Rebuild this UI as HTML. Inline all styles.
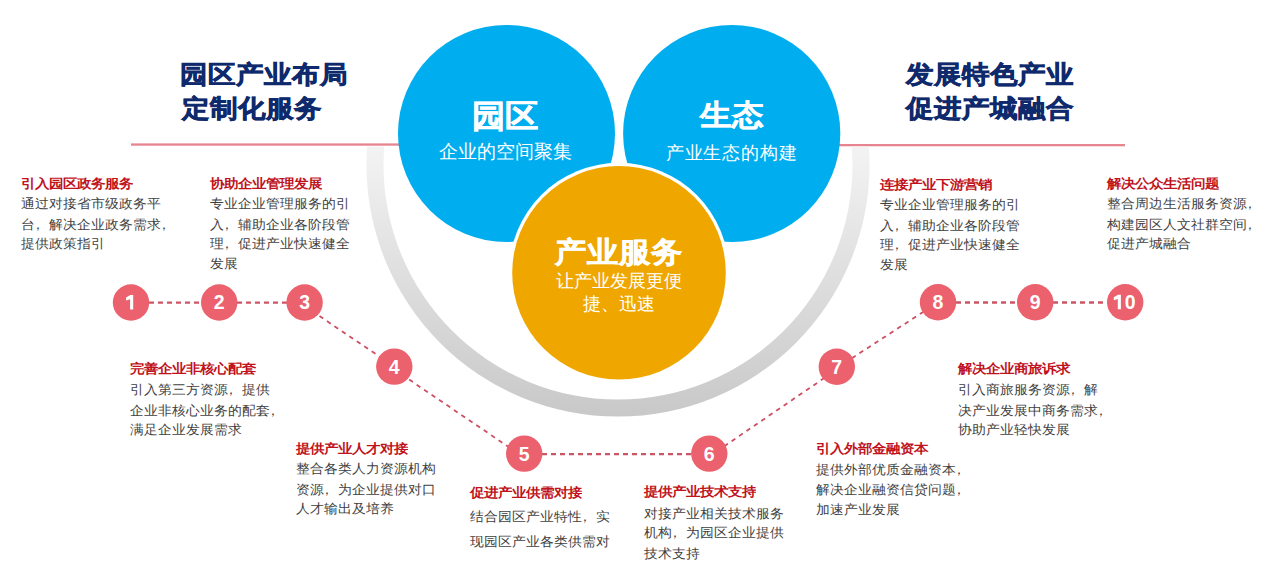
<!DOCTYPE html>
<html>
<head>
<meta charset="utf-8">
<style>
html,body{margin:0;padding:0;}
body{width:1273px;height:576px;overflow:hidden;background:#fff;position:relative;font-family:"Liberation Sans",sans-serif;}
svg{position:absolute;left:0;top:0;}
.t{position:absolute;white-space:nowrap;}
.h{color:#0f2a6c;font-weight:bold;-webkit-text-stroke:0.7px #0f2a6c;font-size:28px;line-height:28px;transform:scaleY(0.91);transform-origin:0 0;}
.ct{color:#fff;font-weight:bold;-webkit-text-stroke:0.5px #fff;}
.cs{color:#fff;}
.blk{position:absolute;white-space:nowrap;font-size:14px;line-height:21.28px;color:#3f3f3f;transform:scaleY(0.94);transform-origin:0 0;}
.blk i{font-style:normal;position:relative;left:-4px;}
.blk b{display:block;color:#c0121c;font-weight:bold;transform:scaleY(0.95);transform-origin:0 50%;}
.n{position:absolute;width:36px;height:36px;border-radius:50%;background:#e95a67;color:#fff;font-weight:bold;font-size:20px;line-height:36px;text-align:center;}
</style>
</head>
<body>
<svg width="1273" height="576" viewBox="0 0 1273 576">
  <defs>
    <linearGradient id="rg" x1="0" y1="147" x2="0" y2="418" gradientUnits="userSpaceOnUse">
      <stop offset="0" stop-color="#f3f3f3"/>
      <stop offset="1" stop-color="#c8c8c8"/>
    </linearGradient>
    <clipPath id="below"><rect x="0" y="146.5" width="1273" height="430"/></clipPath>
  </defs>
  <!-- red lines -->
  <rect x="131" y="143.4" width="270" height="2.3" fill="#e6858f"/>
  <rect x="836" y="144" width="289" height="2.3" fill="#e6858f"/>
  <!-- ring -->
  <path clip-path="url(#below)" fill="url(#rg)" fill-rule="evenodd"
    d="M366.5,165 a251.5,251.5 0 1,0 503,0 a251.5,251.5 0 1,0 -503,0 Z M383.5,165 a234.5,234.5 0 1,0 469,0 a234.5,234.5 0 1,0 -469,0 Z"/>
  <!-- blue circles -->
  <circle cx="506.5" cy="133.5" r="108.5" fill="#00aeef"/>
  <circle cx="731.7" cy="133.5" r="108.6" fill="#00aeef"/>
  <!-- orange -->
  <circle cx="619" cy="272.8" r="110" fill="#fff"/>
  <circle cx="619" cy="272.8" r="106.8" fill="#efa700"/>
  <!-- dashed connectors -->
  <g stroke="#cc5565" stroke-width="2.3" stroke-dasharray="5 4" fill="none">
    <line x1="149" y1="302.7" x2="201" y2="302.7"/>
    <line x1="237" y1="302.7" x2="287" y2="302.7"/>
    <line x1="542" y1="454.1" x2="691" y2="454.1"/>
    <line x1="956" y1="302.5" x2="1017" y2="302.5"/>
    <line x1="1053" y1="302.5" x2="1107" y2="302.5"/>
  </g>
  <g stroke="#cc4f62" stroke-width="1.8" stroke-dasharray="4.5 4.5" fill="none">
    <line x1="304.6" y1="306" x2="394.3" y2="366.6"/>
    <line x1="394.3" y1="369.5" x2="524.2" y2="457.5"/>
    <line x1="709.3" y1="456.4" x2="836.8" y2="369.5"/>
    <line x1="836.8" y1="368" x2="938" y2="302.3"/>
  </g>
  <!-- number circles -->
  <g fill="#eb616d">
    <circle cx="131" cy="302.5" r="18.2"/>
    <circle cx="219.2" cy="302.5" r="18.2"/>
    <circle cx="304.6" cy="302.5" r="18.2"/>
    <circle cx="394.3" cy="366.6" r="18.2"/>
    <circle cx="524.2" cy="453.6" r="18.2"/>
    <circle cx="709.3" cy="453.6" r="18.2"/>
    <circle cx="836.8" cy="366.7" r="18.2"/>
    <circle cx="938" cy="302.3" r="18.2"/>
    <circle cx="1035.2" cy="302.3" r="18.2"/>
    <circle cx="1125.2" cy="302.3" r="18.2"/>
  </g>
  <g fill="#fff" font-family="Liberation Sans" font-weight="bold" font-size="19.5" text-anchor="middle">
    <path transform="translate(131,302.5)" d="M-0.7,-7.6 L2.2,-7.6 L2.2,7 L-0.9,7 L-0.9,-3.2 L-4.9,-2.1 L-4.9,-5 Z"/>
    <text x="219.2" y="309.4">2</text>
    <text x="304.6" y="309.4">3</text>
    <text x="394.3" y="373.5">4</text>
    <text x="524.2" y="460.5">5</text>
    <text x="709.3" y="460.5">6</text>
    <text x="836.8" y="373.59999999999997">7</text>
    <text x="938" y="309.2">8</text>
    <text x="1035.2" y="309.2">9</text>
    <path transform="translate(1118.7,302.3)" d="M-0.7,-7.6 L2.2,-7.6 L2.2,7 L-0.9,7 L-0.9,-3.2 L-4.9,-2.1 L-4.9,-5 Z"/>
    <text x="1130.2" y="309.2">0</text>
  </g>
</svg>

<!-- headings -->
<div class="t h" style="left:180px;top:62.4px">园区产业布局</div>
<div class="t h" style="left:182px;top:96px">定制化服务</div>
<div class="t h" style="left:906px;top:62.4px">发展特色产业</div>
<div class="t h" style="left:906px;top:96px">促进产城融合</div>

<!-- circle texts -->
<div class="t ct" style="left:405.2px;top:99.8px;width:200px;text-align:center;font-size:33px;line-height:33px;transform:scaleY(0.96);transform-origin:0 0">园区</div>
<div class="t cs" style="left:405.7px;top:142.8px;width:200px;text-align:center;font-size:18.7px;line-height:18.7px">企业的空间聚集</div>
<div class="t ct" style="left:631.7px;top:101px;width:200px;text-align:center;font-size:31.5px;line-height:31.5px;transform:scaleY(0.92);transform-origin:0 0">生态</div>
<div class="t cs" style="left:631.4px;top:143.6px;width:200px;text-align:center;font-size:18.4px;line-height:18.4px;letter-spacing:0.9px;text-indent:0.9px">产业生态的构建</div>
<div class="t ct" style="left:519px;top:238.2px;width:200px;text-align:center;font-size:31.5px;line-height:31.5px;transform:scaleY(0.93);transform-origin:0 0">产业服务</div>
<div class="t cs" style="left:518.5px;top:272.2px;width:200px;text-align:center;font-size:18px;line-height:18px">让产业发展更便</div>
<div class="t cs" style="left:518.8px;top:294.5px;width:200px;text-align:center;font-size:18px;line-height:18px">捷、迅速</div>

<!-- text blocks -->
<div class="blk" style="left:21px;top:174px"><b>引入园区政务服务</b>通过对接省市级政务平<br>台<i>，</i>解决企业政务需求<i>，</i><br>提供政策指引</div>
<div class="blk" style="left:209.5px;top:174px"><b>协助企业管理发展</b>专业企业管理服务的引<br>入<i>，</i>辅助企业各阶段管<br>理<i>，</i>促进产业快速健全<br>发展</div>
<div class="blk" style="left:130px;top:359.5px"><b style="position:relative;top:-1px">完善企业非核心配套</b>引入第三方资源<i>，</i>提供<br>企业非核心业务的配套<i>，</i><br>满足企业发展需求</div>
<div class="blk" style="left:296px;top:439px"><b>提供产业人才对接</b>整合各类人力资源机构<br>资源<i>，</i>为企业提供对口<br>人才输出及培养</div>
<div class="blk" style="left:470px;top:480.5px;line-height:26.06px"><b style="line-height:25px">促进产业供需对接</b>结合园区产业特性<i>，</i>实<br>现园区产业各类供需对</div>
<div class="blk" style="left:644px;top:481px"><b style="line-height:23.94px">提供产业技术支持</b>对接产业相关技术服务<br>机构<i>，</i>为园区企业提供<br>技术支持</div>
<div class="blk" style="left:815.5px;top:438.5px"><b style="line-height:22.34px;position:relative;top:-1.3px">引入外部金融资本</b>提供外部优质金融资本<i>，</i><br>解决企业融资信贷问题<i>，</i><br>加速产业发展</div>
<div class="blk" style="left:958px;top:359.5px"><b style="position:relative;top:-1px">解决企业商旅诉求</b>引入商旅服务资源<i>，</i>解<br>决产业发展中商务需求<i>，</i><br>协助产业轻快发展</div>
<div class="blk" style="left:880px;top:174.5px"><b>连接产业下游营销</b>专业企业管理服务的引<br>入<i>，</i>辅助企业各阶段管<br>理<i>，</i>促进产业快速健全<br>发展</div>
<div class="blk" style="left:1107px;top:174px"><b>解决公众生活问题</b>整合周边生活服务资源<i>，</i><br>构建园区人文社群空间<i>，</i><br>促进产城融合</div>
</body>
</html>
